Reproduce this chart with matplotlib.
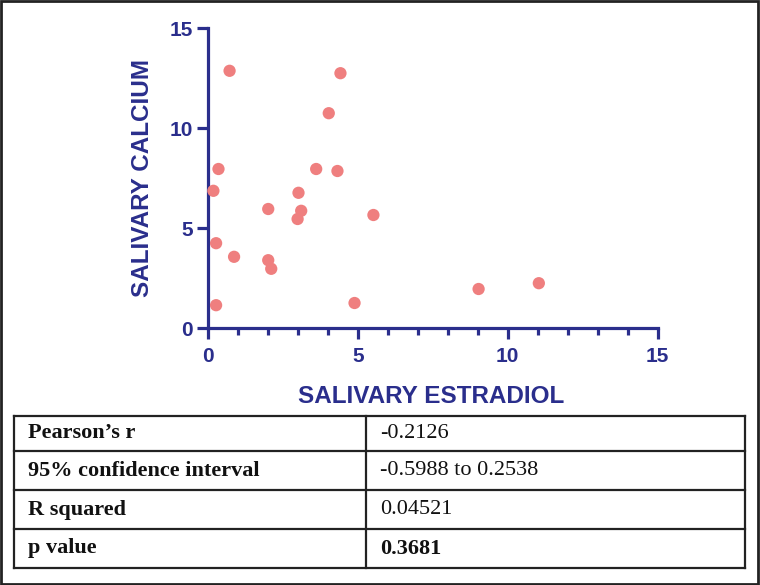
import matplotlib
matplotlib.use("Agg")
import matplotlib.pyplot as plt
from matplotlib.patches import Rectangle
from matplotlib.ticker import MultipleLocator

estradiol = [0.72, 4.42, 4.03, 0.35, 3.61, 4.32, 0.18, 3.02, 2.01, 3.11,
             2.99, 5.52, 0.27, 0.87, 2.01, 2.11, 0.27, 4.89, 9.03, 11.04]
calcium = [12.86, 12.74, 10.74, 7.95, 7.95, 7.85, 6.86, 6.76, 5.95, 5.86,
           5.45, 5.65, 4.24, 3.56, 3.39, 2.96, 1.14, 1.25, 1.95, 2.24]

xticks = [0, 5, 10, 15]
yticks = [0, 5, 10, 15]
xlabel = "SALIVARY ESTRADIOL"
ylabel = "SALIVARY CALCIUM"

stat_names = ["Pearson\u2019s r", "95% confidence interval", "R squared", "p value"]
stat_values = ["-0.2126", "-0.5988 to 0.2538", "0.04521", "0.3681"]

navy = "#2a2e8c"
dot = "#ef7f7f"

fig = plt.figure(figsize=(7.6, 5.85), dpi=100)
ax = fig.add_axes([208/760, 1-328/585, 449.5/760, 300/585])
ax.scatter(estradiol, calcium, s=78, color=dot, edgecolors="none", zorder=3, clip_on=False)
ax.set_xlim(0, 15)
ax.set_ylim(0, 15)
ax.set_xticks(xticks)
ax.set_yticks(yticks)
ax.xaxis.set_minor_locator(MultipleLocator(1))
for s in ["top", "right"]:
    ax.spines[s].set_visible(False)
for s in ["left", "bottom"]:
    ax.spines[s].set_color(navy)
    ax.spines[s].set_linewidth(2.3)
ax.tick_params(axis="both", which="major", direction="out", length=8, width=2.3,
               color=navy, labelcolor=navy, labelsize=15)
ax.tick_params(axis="x", which="major", pad=6)
ax.tick_params(axis="y", which="major", pad=3)
ax.tick_params(axis="x", which="minor", direction="out", length=5, width=2.3, color=navy)
for lab in ax.get_xticklabels() + ax.get_yticklabels():
    lab.set_fontfamily("Liberation Sans")
    lab.set_fontweight("bold")
ax.set_xlabel(xlabel, fontsize=17.5, fontweight="bold", color=navy,
              fontfamily="Liberation Sans")
ax.set_ylabel(ylabel, fontsize=17.5, fontweight="bold", color=navy,
              fontfamily="Liberation Sans")
ax.yaxis.set_label_coords(-0.12, 0.5)
ax.xaxis.set_label_coords(0.496, -0.19)

# statistics table
tl, tr = 14/760, 745/760
rows_y = [416, 451, 490, 529, 568]
col_x = 366/760
lw = 1.6
for y in rows_y:
    fig.add_artist(plt.Line2D([tl, tr], [1-y/585, 1-y/585], color="#222222", lw=lw))
for x in [tl, col_x, tr]:
    fig.add_artist(plt.Line2D([x, x], [1-rows_y[0]/585, 1-rows_y[-1]/585], color="#222222", lw=lw))
for i, (name, val) in enumerate(zip(stat_names, stat_values)):
    yc = 1 - (rows_y[i] + rows_y[i+1]) / 2 / 585
    fig.text(tl + 14/760, yc, name, fontsize=16, fontweight="bold",
             fontfamily="Liberation Serif", va="center", ha="left", color="#111111")
    fig.text(col_x + 14/760, yc, val, fontsize=16,
             fontweight="bold" if i == 3 else "normal",
             fontfamily="Liberation Serif", va="center", ha="left", color="#111111")

fig.add_artist(Rectangle((0.001, 0.002), 0.996, 0.997, transform=fig.transFigure,
                         fill=False, edgecolor="#222222", lw=2))

fig.savefig("out.png", dpi=100)
